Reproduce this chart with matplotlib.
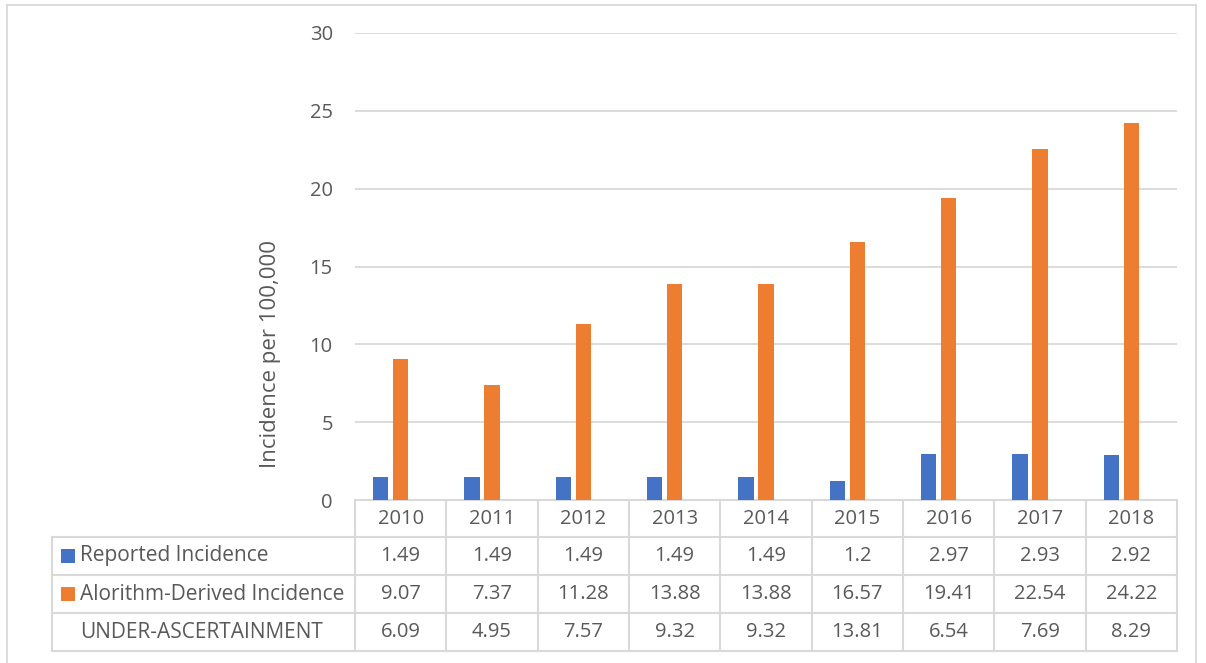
import matplotlib
matplotlib.use("Agg")
import matplotlib.pyplot as plt
from matplotlib.lines import Line2D
from matplotlib.patches import Rectangle
import numpy as np

years = ["2010", "2011", "2012", "2013", "2014", "2015", "2016", "2017", "2018"]
reported = [1.49, 1.49, 1.49, 1.49, 1.49, 1.2, 2.97, 2.93, 2.92]
algorithm = [9.07, 7.37, 11.28, 13.88, 13.88, 16.57, 19.41, 22.54, 24.22]
under = [6.09, 4.95, 7.57, 9.32, 9.32, 13.81, 6.54, 7.69, 8.29]
series_names = ["Reported Incidence", "Alorithm-Derived Incidence", "UNDER-ASCERTAINMENT"]
yticks = [0, 5, 10, 15, 20, 25, 30]
ylabel = "Incidence per 100,000"

BLUE = "#4472C4"
ORANGE = "#ED7D31"
TXT = "#595959"
GRID = "#D9D9D9"
FONT = "Open Sans"
FS = 14.5

W, H = 1206, 663
fig = plt.figure(figsize=(W / 100, H / 100), dpi=100)
fig.patch.set_facecolor("white")

ax = fig.add_axes([355 / W, 1 - 500 / H, 822 / W, 467 / H])
x = np.arange(len(years))
bw = 0.17
ax.bar(x - 0.219, reported, width=bw, color=BLUE, zorder=3)
ax.bar(x, algorithm, width=bw, color=ORANGE, zorder=3)

ax.set_xlim(-0.5, len(years) - 0.5)
ax.set_ylim(0, 30)
ax.set_yticks(yticks)
ax.set_yticklabels([str(t) for t in yticks], fontfamily=FONT, fontsize=FS, color=TXT)
ax.tick_params(axis="y", length=0, pad=16)
ax.set_xticks([])
for s in ax.spines.values():
    s.set_visible(False)
ax.yaxis.grid(True, color=GRID, linewidth=1.3, zorder=0)
ax.set_axisbelow(True)
ax.set_ylabel(ylabel, fontfamily=FONT, fontsize=16, color=TXT)
ax.yaxis.set_label_coords(-0.090, 0.3126)

# data table under the plot
trans = ax.get_xaxis_transform()
px = 1 / 467.0
rows_y = [0, -37 * px, -75 * px, -113 * px, -151 * px]
unit = 822 / 9
left_x = -0.5 - (355 - 52) / unit
n = len(years)
lkw = dict(color=GRID, linewidth=1.5, transform=trans, clip_on=False)
for i in range(n + 1):
    ax.add_line(Line2D([i - 0.5, i - 0.5], [rows_y[0], rows_y[-1]], **lkw))
ax.add_line(Line2D([left_x, left_x], [rows_y[1], rows_y[-1]], **lkw))
ax.add_line(Line2D([-0.5, n - 0.5], [0, 0], **lkw))
for yy in rows_y[1:]:
    ax.add_line(Line2D([left_x, n - 0.5], [yy, yy], **lkw))

tkw = dict(transform=trans, fontfamily=FONT, fontsize=FS, color=TXT,
           ha="center", va="center", clip_on=False)
hy = (rows_y[0] + rows_y[1]) / 2
for i, yr in enumerate(years):
    ax.text(i, hy, yr, **tkw)

def fmt(v):
    return "%g" % v

data_rows = [reported, algorithm, under]
colors = [BLUE, ORANGE, None]
for r, (vals, name, c) in enumerate(zip(data_rows, series_names, colors)):
    cy = (rows_y[r + 1] + rows_y[r + 2]) / 2
    for i, v in enumerate(vals):
        ax.text(i, cy, fmt(v), **tkw)
    if c is not None:
        ax.add_patch(Rectangle((-0.5 - (355 - 61) / unit, cy - 7 * px), 14 / unit, 14 * px,
                               facecolor=c, edgecolor="none", transform=trans, clip_on=False))
    ax.text(-0.5 - (355 - 80) / unit, cy, name, transform=trans, fontfamily=FONT,
            fontsize=15, color=TXT, ha="left", va="center", clip_on=False)

# outer chart frame
fkw = dict(color=GRID, linewidth=1.3, transform=fig.transFigure)
fig.add_artist(Line2D([7 / W, 7 / W], [0, 1 - 5 / H], **fkw))
fig.add_artist(Line2D([1196 / W, 1196 / W], [0, 1 - 5 / H], **fkw))
fig.add_artist(Line2D([7 / W, 1196 / W], [1 - 5 / H, 1 - 5 / H], **fkw))

fig.savefig("out.png", dpi=100)
